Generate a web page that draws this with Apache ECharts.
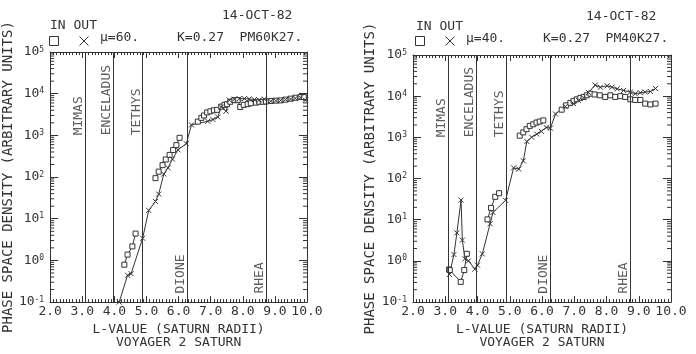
<!DOCTYPE html>
<html>
<head>
<meta charset="utf-8">
<script src="https://cdn.jsdelivr.net/npm/echarts@6/dist/echarts.min.js"></script>
<style>
html, body { margin: 0; padding: 0; background: #fff; }
#chart { width: 696px; height: 354px; }
</style>
</head>
<body>
<div id="chart"></div>
<script>
// moons (L-value of orbit) and where their names sit
const moonNames = ["MIMAS", "ENCELADUS", "TETHYS", "DIONE", "RHEA"];
const moonL = [3.08, 3.95, 4.88, 6.26, 8.74];
const moonLabelY = [1000, 1000, 1000, 0.16, 0.16];

// log minor tick positions inside each decade
const decades = [0.1, 1, 10, 100, 1000, 10000];
const minorMult = [2, 3, 4, 5, 6, 7, 8, 9];

// mu = 60 panel, [L, phase space density]
const in60 = [
	[4.31, 0.79], [4.41, 1.38], [4.56, 2.17], [4.66, 4.4], null,
	[5.28, 94], [5.38, 135], [5.50, 193], [5.60, 264], [5.72, 340], [5.83, 445], [5.93, 583], [6.03, 873], null,
	[6.60, 2140], [6.71, 2630], [6.79, 3000], [6.89, 3550], [6.99, 3770], [7.10, 4000], [7.20, 4100],
	[7.33, 4900], [7.43, 5400], [7.51, 5600], [7.61, 6400], [7.74, 7000], [7.84, 7000],
	[7.92, 4800], [8.03, 5400], [8.15, 5600], [8.25, 5900], [8.41, 6100], [8.51, 6400],
	[8.62, 6400], [8.72, 6500], [8.87, 6700], [9.03, 6800], [9.18, 6900], [9.33, 7200],
	[9.49, 7600], [9.64, 8000], [9.80, 8300], [9.90, 8300]
];
const out60 = [
	[4.15, 0.1], [4.41, 0.44], [4.52, 0.48], [4.88, 3.4], [5.07, 15.9], [5.28, 26], [5.38, 39],
	[5.54, 118], [5.67, 167], [5.81, 270], [5.98, 450], [6.24, 630], [6.40, 1780],
	[6.91, 2180], [7.07, 2400], [7.22, 2750], [7.33, 4800], [7.48, 3800], [7.58, 7000],
	[7.74, 7400], [7.89, 7600], [8.05, 7600], [8.20, 7500], [8.36, 7200], [8.51, 7000],
	[8.67, 7400], [8.87, 6600], [9.03, 6800], [9.18, 6900], [9.33, 7200], [9.49, 7400],
	[9.64, 7800], [9.80, 8000], [9.95, 7000]
];

// mu = 40 panel
const in40 = [
	[3.12, 0.62], [3.14, 0.60], [3.48, 0.31], [3.59, 0.60], [3.67, 1.49], null,
	[4.31, 10.2], [4.42, 19.4], [4.55, 36], [4.67, 44], null,
	[5.31, 1100], [5.42, 1320], [5.52, 1580], [5.62, 1900], [5.73, 2080], [5.83, 2290], [5.93, 2420], [6.04, 2580], null,
	[6.61, 4700], [6.75, 6000], [6.88, 6900], [6.98, 7700], [7.08, 8400], [7.19, 9100], [7.29, 9600],
	[7.39, 10500], [7.50, 11500], [7.63, 11000], [7.79, 10500], [7.96, 9600], [8.12, 10500],
	[8.27, 9600], [8.43, 10000], [8.58, 9600], [8.74, 8400], [8.89, 8100], [9.05, 8100],
	[9.20, 6600], [9.36, 6300], [9.52, 6600]
];
const out40 = [
	[3.13, 0.47], [3.27, 1.43], [3.36, 4.8], [3.49, 30], [3.53, 3.2], [3.61, 1.13], [3.72, 1.0],
	[3.92, 0.63], [4.0, 0.79], [4.15, 1.48], [4.39, 8.0], [4.48, 15], [4.87, 29.5], [5.12, 182],
	[5.28, 170], [5.42, 269], [5.53, 795], [5.68, 1010], [5.84, 1200], [5.98, 1400], [6.13, 1740],
	[6.26, 1670], [6.42, 3700], [6.72, 5600], [6.98, 6600], [7.13, 7900], [7.29, 9100],
	[7.44, 12300], [7.65, 18600], [7.81, 16500], [8.02, 17900], [8.17, 16500], [8.33, 15100],
	[8.53, 13800], [8.74, 12600], [8.89, 11500], [9.05, 12100], [9.20, 12600], [9.36, 13000],
	[9.52, 15400]
];

const FONT = "DejaVu Sans Mono";
const INK = "#333";
const xMark = "path://M0,0L10,10M10,0L0,10";
const boxMark = "path://M0,0L10,0L10,10L0,10Z";

const minorTicks = [];
decades.forEach(d => minorMult.forEach(m => minorTicks.push(d * m)));

const chart = echarts.init(document.getElementById("chart"));

function xAxes(grid) {
	return [
		{
			gridIndex: grid,
			type: "value",
			min: 2,
			max: 10,
			interval: 1,
			axisLine: { lineStyle: { color: INK } },
			axisTick: { inside: true, length: 6, lineStyle: { color: INK } },
			minorTick: { show: true, splitNumber: 10, length: 3, lineStyle: { color: INK } },
			splitLine: { show: false },
			axisLabel: {
				margin: 3,
				color: INK,
				fontFamily: FONT,
				fontSize: 13,
				formatter: v => v.toFixed(1)
			},
			name: "L-VALUE (SATURN RADII)\nVOYAGER 2 SATURN",
			nameLocation: "middle",
			nameGap: 16,
			nameTextStyle: { color: INK, fontFamily: FONT, fontSize: 13, lineHeight: 13 }
		},
		{
			gridIndex: grid,
			type: "value",
			position: "top",
			min: 2,
			max: 10,
			interval: 1,
			axisLine: { lineStyle: { color: INK } },
			axisTick: { inside: true, length: 6, lineStyle: { color: INK } },
			minorTick: { show: true, splitNumber: 10, length: 3, lineStyle: { color: INK } },
			splitLine: { show: false },
			axisLabel: { show: false }
		}
	];
}

function yAxes(grid) {
	return [
		{
			gridIndex: grid,
			type: "log",
			logBase: 10,
			min: 0.1,
			max: 100000,
			splitNumber: 6,
			axisLine: { show: true, lineStyle: { color: INK } },
			axisTick: { show: true, inside: true, length: 8, lineStyle: { color: INK } },
			splitLine: { show: false },
			axisLabel: {
				margin: 6,
				color: INK,
				formatter: v => "{b|10}{s|" + Math.round(Math.log10(v)) + "}",
				rich: {
					b: { fontFamily: FONT, fontSize: 13, color: INK },
					s: { fontFamily: FONT, fontSize: 8, color: INK, verticalAlign: "top" }
				}
			},
			name: "PHASE SPACE DENSITY (ARBITRARY UNITS)",
			nameLocation: "middle",
			nameGap: 30,
			nameTextStyle: { color: INK, fontFamily: FONT, fontSize: 14 }
		},
		{
			gridIndex: grid,
			type: "log",
			logBase: 10,
			position: "right",
			min: 0.1,
			max: 100000,
			splitNumber: 6,
			axisLine: { show: true, lineStyle: { color: INK } },
			axisTick: { show: true, inside: true, length: 8, lineStyle: { color: INK } },
			splitLine: { show: false },
			axisLabel: { show: false }
		}
	];
}

function panelSeries(xi, yi, inData, outData) {
	return [
		{
			name: "IN",
			type: "line",
			xAxisIndex: xi,
			yAxisIndex: yi,
			data: inData,
			symbol: boxMark,
			symbolSize: 5,
			connectNulls: false,
			lineStyle: { color: INK, width: 1 },
			itemStyle: { color: "#fff", borderColor: INK, borderWidth: 1 },
			animation: false
		},
		{
			name: "OUT",
			type: "line",
			xAxisIndex: xi,
			yAxisIndex: yi,
			data: outData,
			symbol: xMark,
			symbolSize: 5,
			lineStyle: { color: INK, width: 1 },
			itemStyle: { color: INK, borderColor: INK, borderWidth: 1 },
			animation: false
		},
		{
			type: "scatter",
			xAxisIndex: xi,
			yAxisIndex: yi,
			symbolSize: 0,
			silent: true,
			data: moonL.map((l, i) => ({ name: moonNames[i], value: [l, moonLabelY[i]] })),
			label: {
				show: true,
				formatter: "{b}",
				rotate: 90,
				position: [0, 0],
				align: "left",
				verticalAlign: "bottom",
				color: INK,
				fontFamily: FONT,
				fontSize: 13
			},
			markLine: {
				silent: true,
				symbol: ["none", "none"],
				label: { show: false },
				lineStyle: { color: INK, type: "solid", width: 1 },
				data: moonL.map(l => ({ xAxis: l }))
			},
			animation: false
		},
		{
			// log minor ticks on both vertical frame edges
			type: "custom",
			xAxisIndex: xi,
			yAxisIndex: yi,
			silent: true,
			data: minorTicks,
			encode: { y: 0 },
			renderItem: (params, api) => {
				const a = api.coord([2, api.value(0)]);
				const b = api.coord([10, api.value(0)]);
				const s = { stroke: INK, lineWidth: 1 };
				return {
					type: "group",
					children: [
						{ type: "line", shape: { x1: a[0], y1: a[1], x2: a[0] + 4, y2: a[1] }, style: s },
						{ type: "line", shape: { x1: b[0] - 4, y1: b[1], x2: b[0], y2: b[1] }, style: s }
					]
				};
			},
			animation: false
		}
	];
}

function txt(text, left, top) {
	return {
		text: text,
		left: left,
		top: top,
		padding: 0,
		textStyle: { color: INK, fontFamily: FONT, fontSize: 13, fontWeight: "normal" }
	};
}

function legendAt(left, top) {
	return {
		left: left,
		top: top,
		padding: 0,
		itemWidth: 9,
		itemHeight: 9,
		itemGap: 20,
		formatter: () => "",
		selectedMode: false,
		data: [
			{ name: "IN", icon: boxMark, itemStyle: { color: "#fff", borderColor: INK, borderWidth: 1 } },
			{ name: "OUT", icon: xMark, itemStyle: { color: INK, borderColor: INK, borderWidth: 1 } }
		]
	};
}

chart.setOption({
	animation: false,
	title: [
		txt("14-OCT-82", 222, 9),
		txt("IN OUT", 50, 19),
		txt("\u03bc=60.", 100, 31),
		txt("K=0.27  PM60K27.", 177, 31),
		txt("14-OCT-82", 586, 10),
		txt("IN OUT", 416, 20),
		txt("\u03bc=40.", 466, 32),
		txt("K=0.27  PM40K27.", 543, 32)
	],
	legend: [legendAt(49, 36), legendAt(415, 36)],
	grid: [
		{ left: 48, top: 52, width: 259, height: 259 },
		{ left: 413, top: 55, width: 258, height: 256 }
	],
	xAxis: [...xAxes(0), ...xAxes(1)],
	yAxis: [...yAxes(0), ...yAxes(1)],
	series: [
		...panelSeries(0, 0, in60, out60),
		...panelSeries(2, 2, in40, out40)
	]
});
</script>
</body>
</html>
